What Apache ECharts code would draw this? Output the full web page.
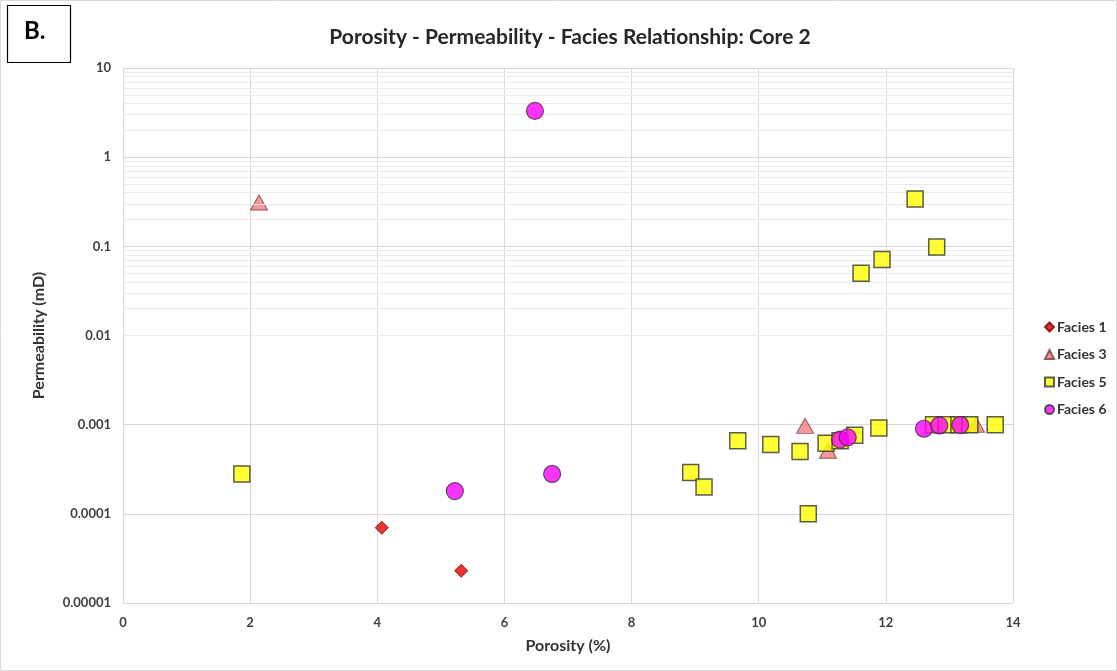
<!DOCTYPE html>
<html>
<head>
<meta charset="utf-8">
<script src="https://cdn.jsdelivr.net/npm/echarts@6/dist/echarts.min.js"></script>
<style>
  html, body { margin: 0; padding: 0; background: #fff; }
  #chart { width: 1117px; height: 671px; }
</style>
</head>
<body>
<div id="chart"></div>
<script>
// Porosity (%) / permeability (mD) pairs per facies
const facies1 = [[4.07, 0.00007], [5.32, 0.000023]];
const facies3 = [[2.14, 0.31], [10.73, 0.00097], [11.09, 0.00051], [13.42, 0.001]];
const facies5 = [
  [1.87, 0.00028], [8.93, 0.00029], [9.14, 0.0002], [9.67, 0.00066],
  [10.19, 0.0006], [10.65, 0.0005], [10.78, 0.0001], [11.06, 0.00062],
  [11.28, 0.00066], [11.51, 0.00076], [11.61, 0.05], [11.89, 0.00092],
  [11.94, 0.071], [12.46, 0.34], [12.8, 0.098], [12.75, 0.001],
  [12.95, 0.001], [13.15, 0.001], [13.32, 0.001], [13.72, 0.001]
];
const facies6 = [
  [6.48, 3.3], [5.22, 0.00018], [6.75, 0.00028], [11.28, 0.00068],
  [11.4, 0.00072], [12.6, 0.0009], [12.84, 0.00098], [13.17, 0.00099]
];

const xTicks = [0, 2, 4, 6, 8, 10, 12, 14];
const yTickLabels = ['0.00001', '0.0001', '0.001', '0.01', '0.1', '1', '10'];
// log minor gridlines at 2..9 of every decade
const minorGrid = [];
for (let e = -5; e < 1; e++) {
  for (let m = 2; m <= 9; m++) minorGrid.push({ yAxis: m * Math.pow(10, e) });
}

const FONT = 'Lato, "Open Sans", sans-serif';
const tickStyle = { color: '#404040', fontFamily: FONT, fontWeight: 'bold', fontSize: 13 };
const nameStyle = { fontFamily: FONT, fontWeight: 'bold', fontSize: 16, color: '#333' };

const chart = echarts.init(document.getElementById('chart'), null, { renderer: 'canvas' });
chart.setOption({
  animation: false,
  backgroundColor: '#fff',
  title: {
    text: 'Porosity - Permeability - Facies Relationship: Core 2',
    left: 565, top: 22, textAlign: 'center',
    textStyle: { fontFamily: FONT, fontWeight: 'bold', fontSize: 21, color: '#262626' }
  },
  graphic: [
    { type: 'rect', shape: { x: 0.5, y: 0.5, width: 1116, height: 670 },
      style: { fill: 'none', stroke: '#d9d9d9', lineWidth: 1 }, silent: true },
    { type: 'rect', shape: { x: 7.5, y: 5.5, width: 63, height: 57 },
      style: { fill: '#fff', stroke: '#000', lineWidth: 1.2 }, silent: true, z: 10 },
    { type: 'text', left: 24, top: 19, z: 11,
      style: { text: 'B.', fontFamily: FONT, fontWeight: 'bold', fontSize: 24, fill: '#000' } }
  ],
  legend: {
    orient: 'vertical', left: 1039, top: 315,
    itemWidth: 9, itemHeight: 9, itemGap: 13.5,
    data: ['Facies 1', 'Facies 3', 'Facies 5', 'Facies 6'],
    textStyle: { fontFamily: FONT, fontWeight: 'bold', fontSize: 14, color: '#333', padding: [0, 0, 0, -2] }
  },
  grid: { left: 123, top: 68, width: 890, height: 535 },
  xAxis: {
    type: 'value', min: xTicks[0], max: xTicks[xTicks.length - 1], interval: 2,
    name: 'Porosity (%)', nameLocation: 'middle', nameGap: 35,
    nameTextStyle: nameStyle,
    axisLine: { lineStyle: { color: '#d9d9d9', width: 1 } },
    axisTick: { show: false },
    axisLabel: Object.assign({ margin: 13 }, tickStyle),
    splitLine: { lineStyle: { color: '#d9d9d9', width: 1 } }
  },
  yAxis: {
    type: 'log', logBase: 10, min: 0.00001, max: 10,
    name: 'Permeability (mD)', nameLocation: 'middle', nameGap: 76,
    nameTextStyle: nameStyle,
    axisLine: { show: true, lineStyle: { color: '#d9d9d9', width: 1 } },
    axisTick: { show: false },
    axisLabel: Object.assign({
      margin: 12,
      formatter: v => yTickLabels[Math.round(Math.log10(v)) + 5]
    }, tickStyle),
    splitLine: { lineStyle: { color: '#d9d9d9', width: 1 } }
  },
  series: [
    {
      name: 'minor', type: 'line', data: [], z: 1, silent: true,
      markLine: {
        silent: true, symbol: 'none', animation: false,
        label: { show: false },
        lineStyle: { color: '#ebebeb', type: 'solid', width: 1 },
        data: minorGrid
      }
    },
    {
      name: 'Facies 1', type: 'scatter', data: facies1, symbol: 'diamond', symbolSize: 13, z: 3,
      itemStyle: { color: '#e00000', borderColor: '#6b0000', borderWidth: 1 }
    },
    {
      name: 'Facies 3', type: 'scatter', data: facies3, symbol: 'triangle', symbolSize: [17, 15], z: 4,
      itemStyle: { color: '#f08080', borderColor: '#7a3b3b', borderWidth: 1 }
    },
    {
      name: 'Facies 5', type: 'scatter', data: facies5, symbol: 'rect', symbolSize: 16, z: 5,
      itemStyle: { color: '#ffff00', borderColor: '#333', borderWidth: 1.5 }
    },
    {
      name: 'Facies 6', type: 'scatter', data: facies6, symbol: 'circle', symbolSize: 17, z: 6,
      itemStyle: { color: '#ff00ff', borderColor: '#333', borderWidth: 1.2 }
    }
  ]
});
</script>
</body>
</html>
